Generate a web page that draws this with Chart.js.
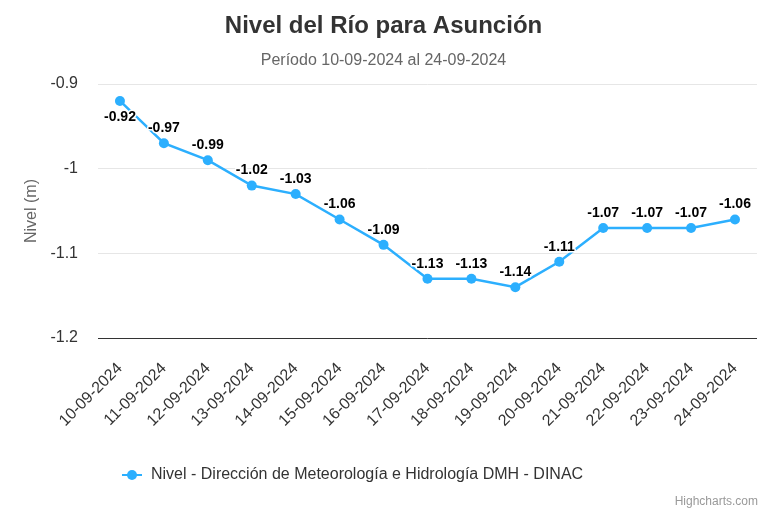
<!DOCTYPE html>
<html>
<head>
<meta charset="utf-8">
<title>Nivel del Río para Asunción</title>
<script src="https://cdn.jsdelivr.net/npm/chart.js@4.4.1/dist/chart.umd.min.js"></script>
<style>
    html, body { margin: 0; padding: 0; background: #fff; }
    #wrap { width: 770px; height: 513px; }
</style>
</head>
<body>
<div id="wrap"><canvas id="nivelChart"></canvas></div>
<script>
// datos
const fechas = ['10-09-2024', '11-09-2024', '12-09-2024', '13-09-2024', '14-09-2024', '15-09-2024', '16-09-2024',
    '17-09-2024', '18-09-2024', '19-09-2024', '20-09-2024', '21-09-2024', '22-09-2024', '23-09-2024', '24-09-2024'];
const niveles = [-0.92, -0.97, -0.99, -1.02, -1.03, -1.06, -1.09, -1.13, -1.13, -1.14, -1.11, -1.07, -1.07, -1.07, -1.06];
const yTicks = [-1.2, -1.1, -1, -0.9];
const serieNombre = 'Nivel - Dirección de Meteorología e Hidrología DMH - DINAC';

const AZUL = '#2caffe';
Chart.defaults.font.family = '"Liberation Sans", Arial, Helvetica, sans-serif';

// simbolo de leyenda: linea + punto
function simboloLeyenda() {
    const c = document.createElement('canvas');
    c.width = 20; c.height = 12;
    const g = c.getContext('2d');
    g.strokeStyle = AZUL; g.lineWidth = 2;
    g.beginPath(); g.moveTo(0, 6); g.lineTo(20, 6); g.stroke();
    g.fillStyle = AZUL;
    g.beginPath(); g.arc(10, 6, 5, 0, Math.PI * 2); g.fill();
    return c;
}

// etiquetas de datos arriba de cada punto (abajo si no entra)
const etiquetas = {
    id: 'etiquetas',
    afterDatasetsDraw(chart) {
        const ctx = chart.ctx;
        const meta = chart.getDatasetMeta(0);
        const area = chart.chartArea;
        ctx.save();
        ctx.font = 'bold 14px "Liberation Sans", Arial, sans-serif';
        ctx.textAlign = 'center';
        ctx.textBaseline = 'middle';
        ctx.lineJoin = 'round';
        meta.data.forEach((p, i) => {
            const txt = String(niveles[i]);
            let y = p.y - 15;
            if (y - 9 < area.top) y = p.y + 16;
            ctx.strokeStyle = '#fff'; ctx.lineWidth = 3;
            ctx.strokeText(txt, p.x, y);
            ctx.fillStyle = '#000';
            ctx.fillText(txt, p.x, y);
        });
        ctx.restore();
    }
};

const creditos = {
    id: 'creditos',
    afterDraw(chart) {
        const ctx = chart.ctx;
        ctx.save();
        ctx.font = '12px "Liberation Sans", Arial, sans-serif';
        ctx.fillStyle = '#999';
        ctx.textAlign = 'right';
        ctx.textBaseline = 'middle';
        ctx.fillText('Highcharts.com', chart.width - 12, chart.height - 11);
        ctx.restore();
    }
};

const ctx = document.getElementById('nivelChart').getContext('2d');
const chart = new Chart(ctx, {
    type: 'line',
    data: {
        labels: fechas,
        datasets: [{
            label: serieNombre,
            data: niveles,
            borderColor: AZUL,
            backgroundColor: AZUL,
            borderWidth: 2.5,
            pointRadius: 5,
            pointHoverRadius: 6,
            pointBorderWidth: 0,
            pointBackgroundColor: AZUL,
            pointStyle: 'circle',
            tension: 0
        }]
    },
    options: {
        responsive: true,
        maintainAspectRatio: false,
        animation: false,
        layout: { padding: { left: 10, right: 13, top: 0, bottom: 20 } },
        plugins: {
            title: {
                display: true,
                text: 'Nivel del Río para Asunción',
                color: '#333',
                font: { size: 24, weight: 'bold' },
                padding: { top: 12, bottom: 10 }
            },
            subtitle: {
                display: true,
                text: 'Período 10-09-2024 al 24-09-2024',
                color: '#666',
                font: { size: 16 },
                padding: { top: 0, bottom: 14 }
            },
            legend: {
                position: 'bottom',
                align: 'start',
                fullSize: false,
                labels: {
                    usePointStyle: true,
                    pointStyle: simboloLeyenda(),
                    pointStyleWidth: 22,
                    padding: 23,
                    color: '#333',
                    font: { size: 16 }
                }
            },
            tooltip: { enabled: true }
        },
        scales: {
            x: {
                offset: true,
                grid: { display: false, drawTicks: false },
                border: { display: true, color: '#333', width: 1 },
                ticks: { color: '#333', font: { size: 16 }, maxRotation: 45, minRotation: 45, padding: 21, autoSkip: false },
                afterFit: s => { s.height = 106; }
            },
            y: {
                min: -1.2,
                max: -0.9,
                afterBuildTicks: s => { s.ticks = yTicks.map(v => ({ value: v })); },
                grid: { color: '#e6e6e6', drawTicks: false },
                border: { display: false },
                ticks: {
                    color: '#333',
                    font: { size: 16 },
                    padding: 20,
                    callback: v => Number(v.toFixed(2)).toString()
                },
                title: {
                    display: true,
                    text: 'Nivel (m)',
                    color: '#666',
                    font: { size: 16 },
                    padding: { top: 12, bottom: 4 }
                },
                afterFit: s => { s.width = 88; }
            }
        }
    },
    plugins: [etiquetas, creditos]
});
</script>
</body>
</html>
